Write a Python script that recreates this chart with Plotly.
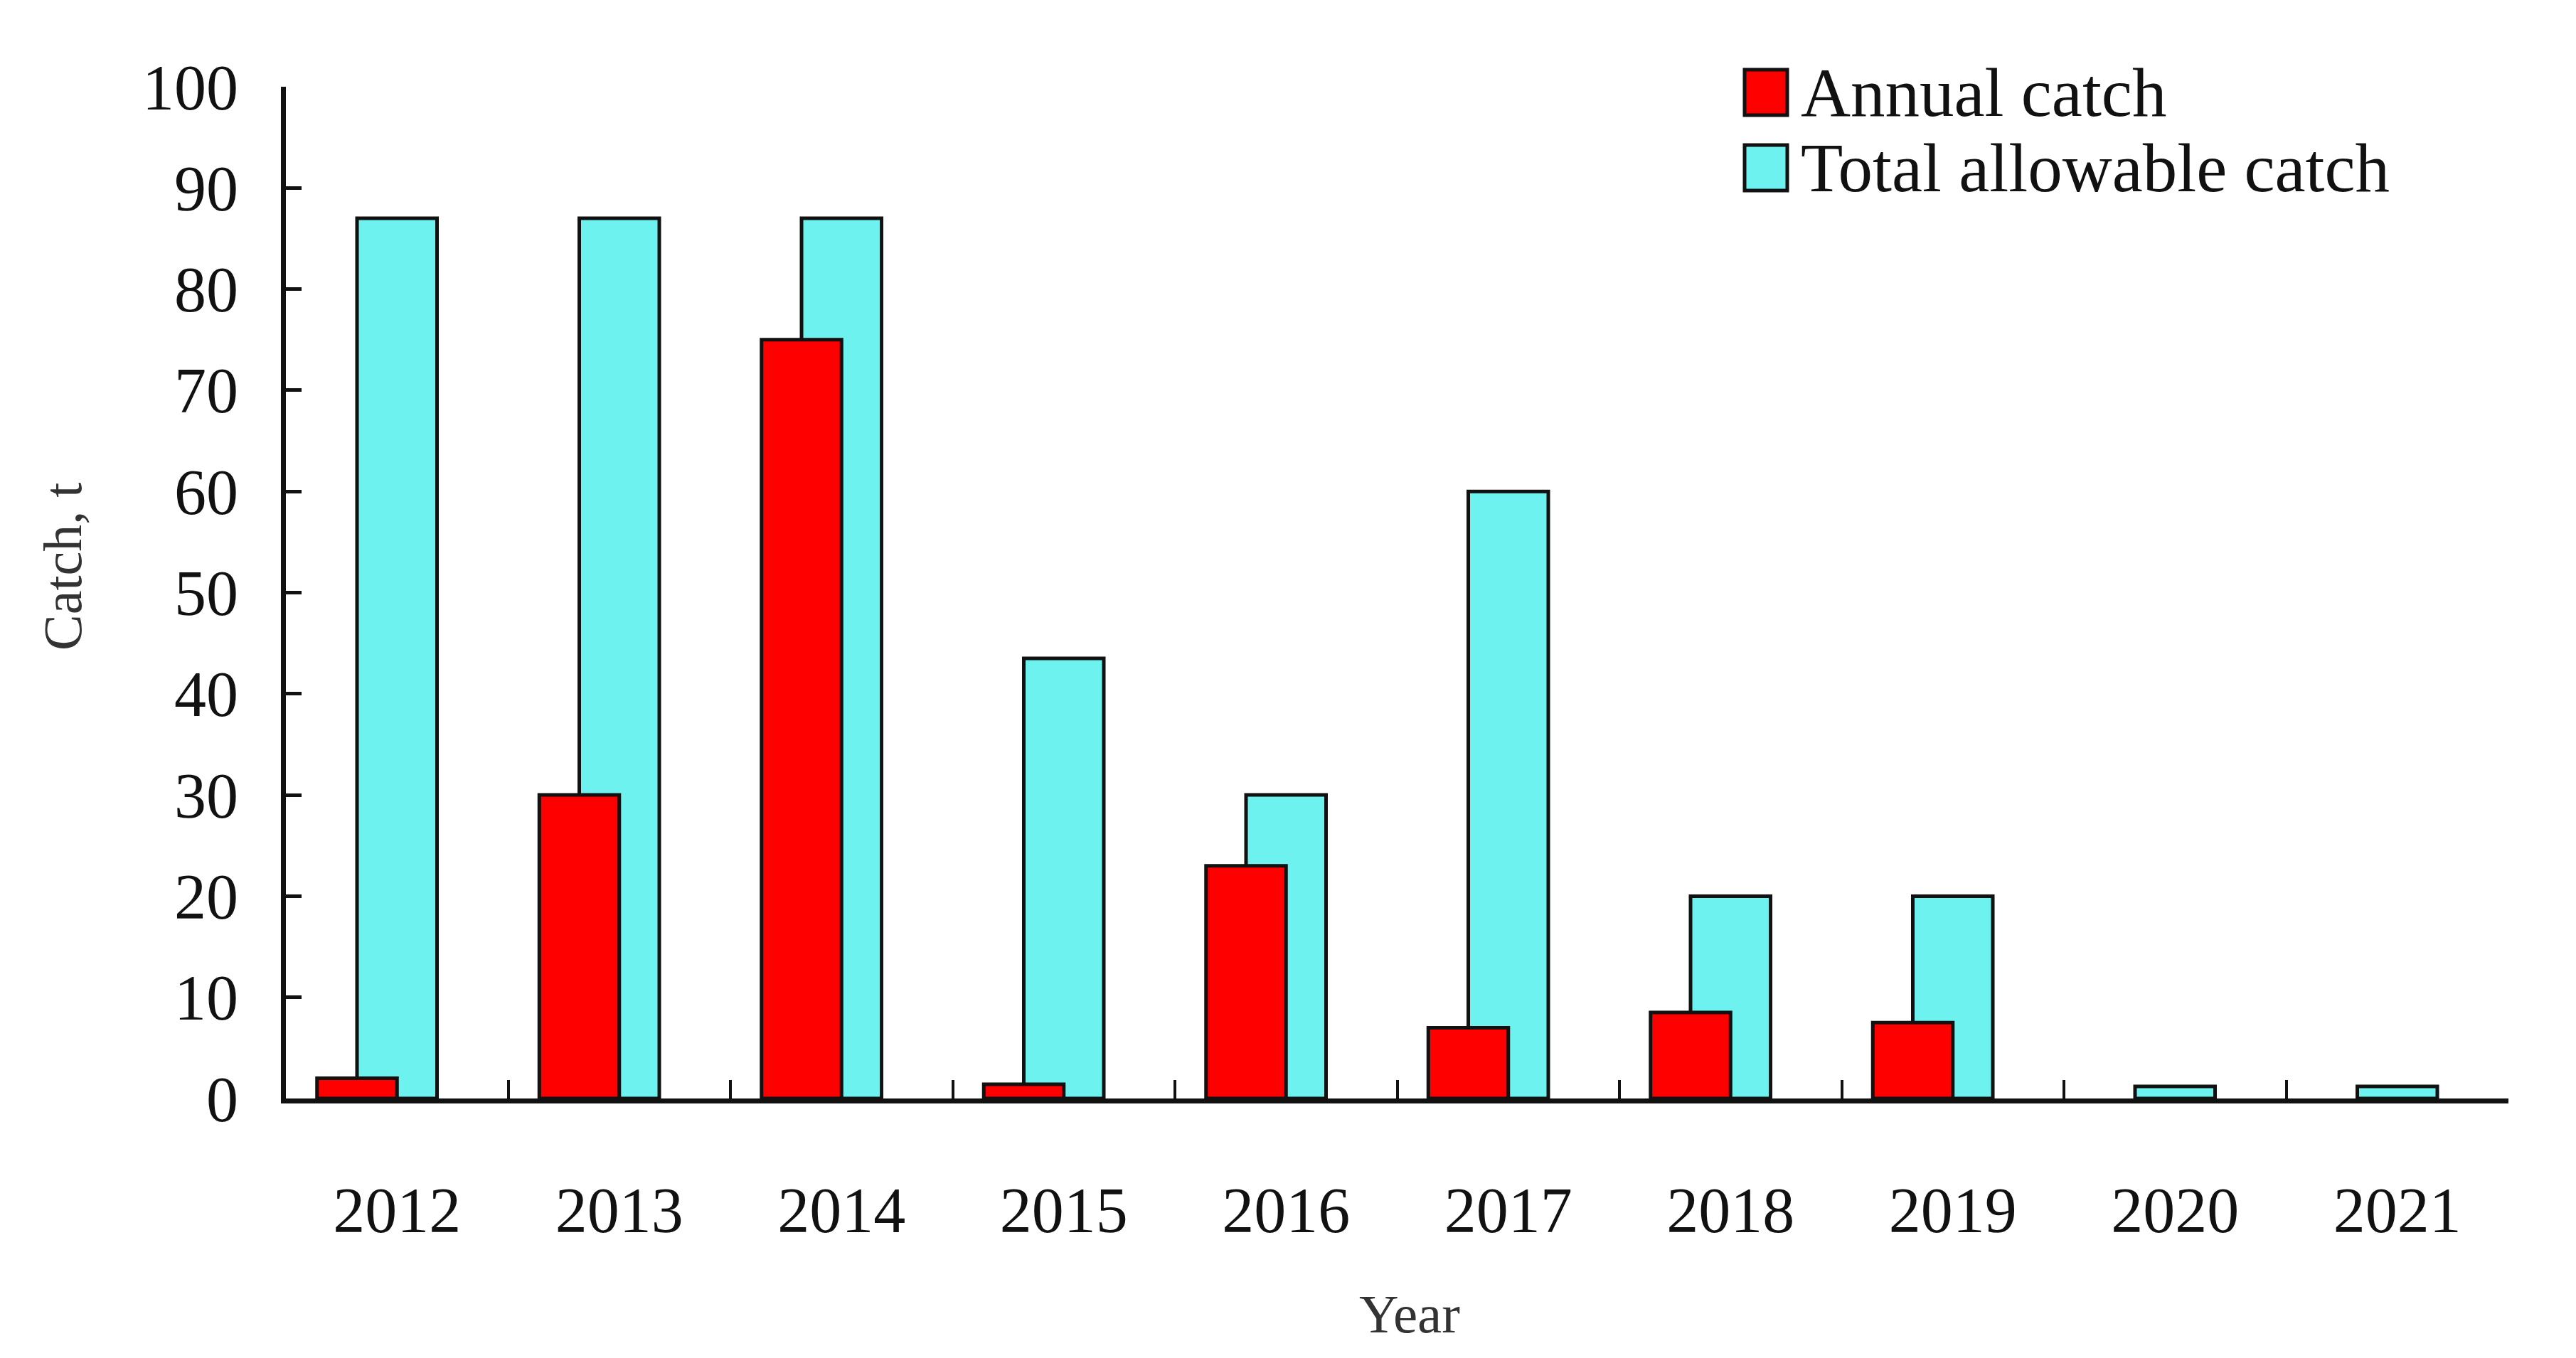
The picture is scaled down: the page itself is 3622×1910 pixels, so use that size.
import plotly.graph_objects as go

years = ["2012", "2013", "2014", "2015", "2016", "2017", "2018", "2019", "2020", "2021"]
annual_catch = [2, 30, 75, 1.4, 23, 7, 8.5, 7.5, None, None]
total_allowable_catch = [87, 87, 87, 43.5, 30, 60, 20, 20, 1.2, 1.2]
series_names = ["Annual catch", "Total allowable catch"]
series_colors = ["#FF0000", "#6EF2F0"]
y_ticks = [0, 10, 20, 30, 40, 50, 60, 70, 80, 90, 100]
x_title = "Year"
y_title = "Catch, t"

W, H = 3622, 1910
L, R, T, B = 402, 95, 122, 365
FONT = "Palatino Linotype, Book Antiqua, Liberation Serif, serif"
INK = "#111111"

fig = go.Figure()
fig.add_trace(go.Bar(
    x=years, y=total_allowable_catch, name=series_names[1],
    marker=dict(color=series_colors[1], line=dict(color=INK, width=5)),
    width=0.36, offset=-0.18, showlegend=False,
))
fig.add_trace(go.Bar(
    x=years, y=annual_catch, name=series_names[0],
    marker=dict(color=series_colors[0], line=dict(color=INK, width=5)),
    width=0.36, offset=-0.36, showlegend=False,
))

pw = W - L - R
ph = H - T - B
def px(x):
    return (x - L) / pw
def py(y):
    return (H - B - y) / ph

# legend (manual, to get large swatches)
legend_rows = [(130, 0), (236, 1)]
for yc, i in legend_rows:
    fig.add_shape(type="rect", xref="paper", yref="paper",
                  x0=px(2453), x1=px(2513), y0=py(yc - 32), y1=py(yc + 32),
                  fillcolor=series_colors[i], line=dict(color=INK, width=5))
    fig.add_annotation(xref="paper", yref="paper", x=px(2530), y=py(yc),
                       text=series_names[i], showarrow=False, xanchor="left", yanchor="middle",
                       font=dict(family=FONT, size=97, color=INK))

# axis titles
fig.add_annotation(xref="paper", yref="paper", x=px(1982), y=py(1848),
                   text=x_title, showarrow=False, xanchor="center", yanchor="middle",
                   font=dict(family=FONT, size=77, color="#333333"))
fig.add_annotation(xref="paper", yref="paper", x=px(88), y=py(797),
                   text=y_title, showarrow=False, xanchor="center", yanchor="middle",
                   textangle=-90, font=dict(family=FONT, size=76, color="#333333"))

fig.update_layout(
    width=W, height=H,
    margin=dict(l=L, r=R, t=T, b=B),
    barmode="overlay",
    plot_bgcolor="white", paper_bgcolor="white",
    font=dict(family=FONT, color=INK),
)
fig.update_xaxes(
    type="category", tickson="boundaries", ticks="inside", ticklen=26, tickwidth=4,
    tickcolor=INK, showline=True, linewidth=7, linecolor=INK,
    showgrid=False, range=[-0.5, 9.5],
    tickfont=dict(family=FONT, size=90, color=INK), ticklabelstandoff=73,
)
fig.update_yaxes(
    range=[0, 100], tickvals=y_ticks, ticks="inside", ticklen=22, tickwidth=5,
    tickcolor=INK, showline=True, linewidth=7, linecolor=INK,
    showgrid=False, zeroline=False,
    tickfont=dict(family=FONT, size=90, color=INK), ticklabelstandoff=42,
)

fig.write_html("out.html", config={"displayModeBar": False},
               post_script="document.body.style.margin='0';document.body.style.overflow='hidden';")
